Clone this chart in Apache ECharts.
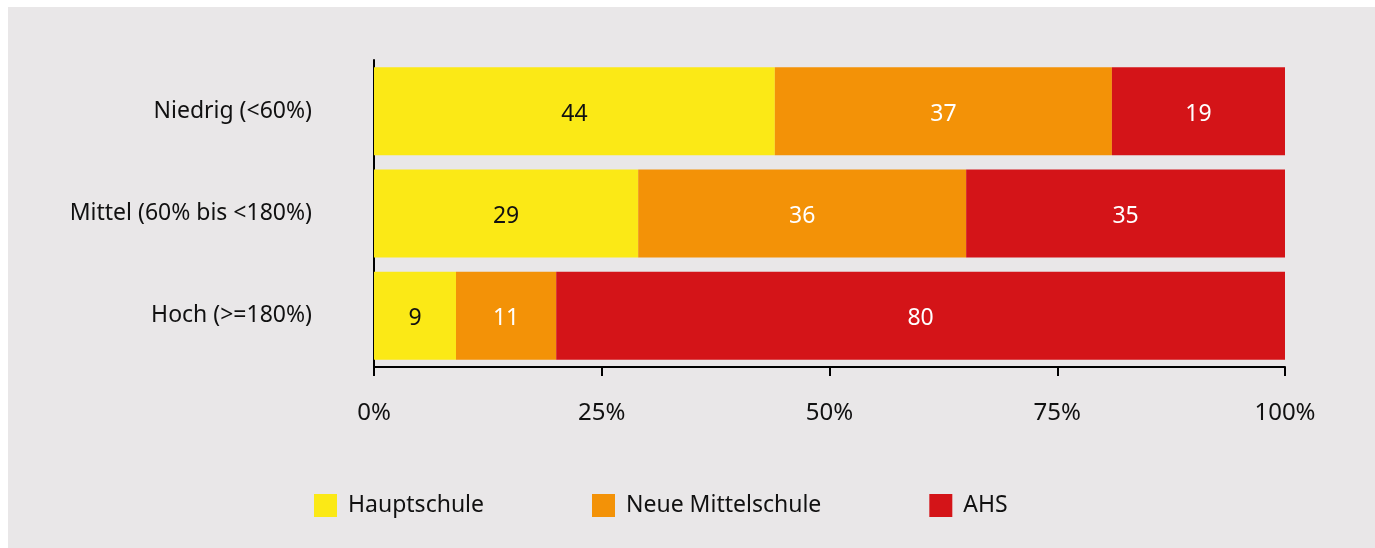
<!DOCTYPE html>
<html>
<head>
<meta charset="utf-8">
<script src="https://cdn.jsdelivr.net/npm/echarts@6/dist/echarts.min.js"></script>
<style>
  html, body { margin: 0; padding: 0; background: #fff; }
  #chart { position: absolute; left: 8px; top: 7px; width: 1367px; height: 541px; }
</style>
</head>
<body>
<div id="chart"></div>
<script>
const categories = ['Niedrig (<60%)', 'Mittel (60% bis <180%)', 'Hoch (>=180%)']
const hauptschule = [44, 29, 9]
const neueMittelschule = [37, 36, 11]
const ahs = [19, 35, 80]
const xTicks = [0, 25, 50, 75, 100]

const font = 'Noto Sans'
const chart = echarts.init(document.getElementById('chart'))

const makeSeries = (name, data, color, labelColor) => ({
  name: name,
  type: 'bar',
  stack: 'total',
  data: data,
  barCategoryGap: '14%',
  itemStyle: { color: color },
  label: {
    show: true,
    position: 'inside',
    offset: [0, 3],
    color: labelColor,
    fontFamily: font,
    fontSize: 23
  }
})

chart.setOption({
  backgroundColor: '#e9e7e8',
  animation: false,
  grid: {
    left: 366,
    right: 90,
    top: 53,
    bottom: 181
  },
  xAxis: {
    type: 'value',
    min: xTicks[0],
    max: xTicks[xTicks.length - 1],
    interval: 25,
    splitLine: { show: false },
    axisLine: { show: true, lineStyle: { color: '#000', width: 2 } },
    axisTick: { show: true, length: 9, lineStyle: { color: '#000', width: 2 } },
    axisLabel: {
      formatter: '{value}%',
      color: '#111',
      fontFamily: font,
      fontSize: 24,
      margin: 34
    }
  },
  yAxis: {
    type: 'category',
    data: categories,
    inverse: true,
    axisLine: { show: true, lineStyle: { color: '#000', width: 2 } },
    axisTick: { show: false },
    axisLabel: {
      color: '#111',
      fontFamily: font,
      fontSize: 23,
      margin: 62,
      padding: [6, 0, 0, 0]
    }
  },
  legend: {
    left: 301,
    top: 482,
    itemWidth: 23,
    itemHeight: 23,
    itemGap: 108,
    icon: 'rect',
    textStyle: {
      color: '#111',
      fontFamily: font,
      fontSize: 23,
      padding: [0, 0, 0, 6]
    },
    data: ['Hauptschule', 'Neue Mittelschule', 'AHS']
  },
  series: [
    makeSeries('Hauptschule', hauptschule, '#fbe916', '#111'),
    makeSeries('Neue Mittelschule', neueMittelschule, '#f39207', '#fff'),
    makeSeries('AHS', ahs, '#d41418', '#fff')
  ]
})
</script>
</body>
</html>
